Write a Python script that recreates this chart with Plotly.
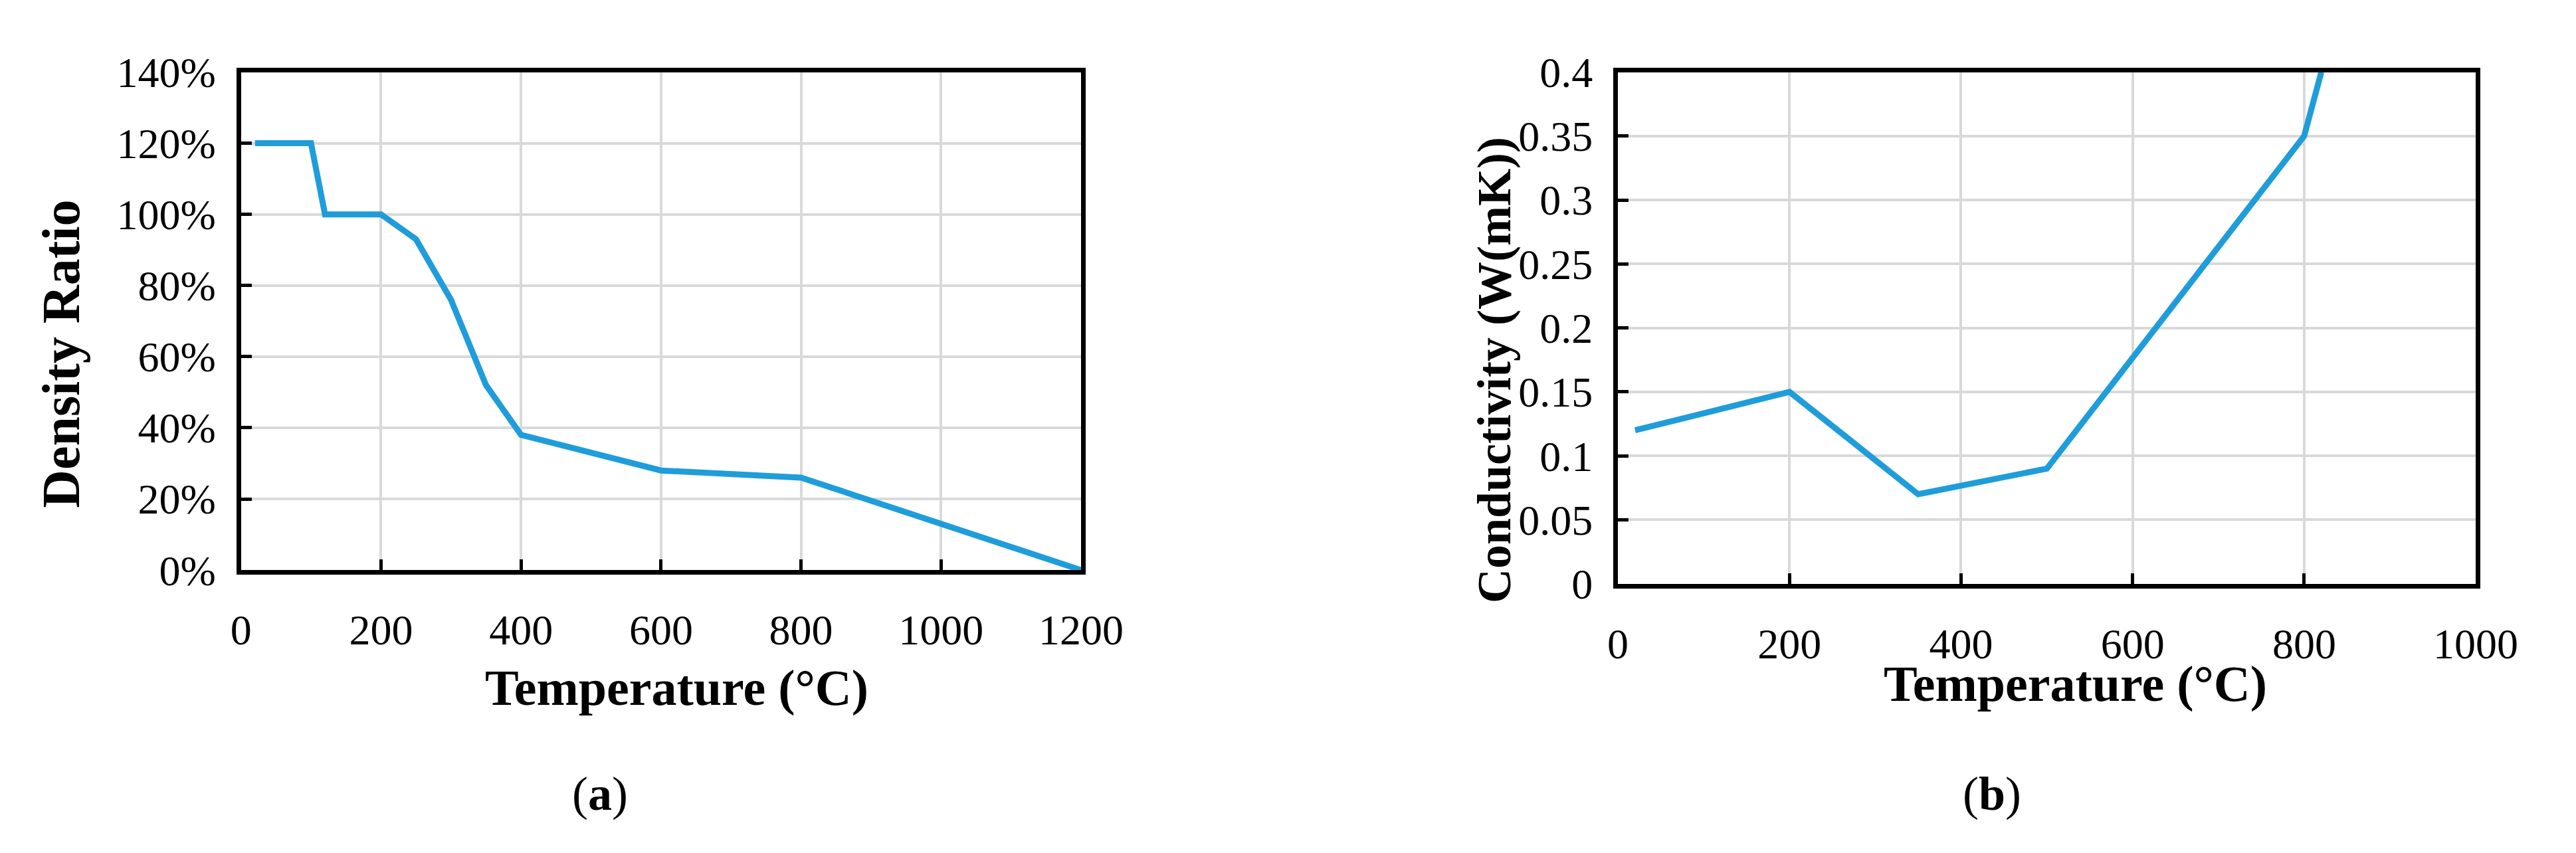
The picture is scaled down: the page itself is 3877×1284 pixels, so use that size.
import plotly.graph_objects as go

temp_a = [20, 100, 120, 200, 250, 300, 350, 400, 600, 800, 1200]
density = [120, 120, 100, 100, 93, 76, 52, 38, 28, 26, 0]
temp_b = [20, 200, 350, 500, 800, 820]
conductivity = [0.12, 0.15, 0.07, 0.09, 0.35, 0.40]
yb_ticks = [0, 0.05, 0.1, 0.15, 0.2, 0.25, 0.3, 0.35, 0.4]
yb_labels = ["0", "0.05", "0.1", "0.15", "0.2", "0.25", "0.3", "0.35", "0.4"]

W, H = 3877, 1284
BLUE = "#1f9ddb"
FONT = "Liberation Serif"

fig = go.Figure()
fig.add_trace(go.Scatter(x=temp_a, y=density, mode="lines", line=dict(color=BLUE, width=9),
                         xaxis="x", yaxis="y", showlegend=False))
fig.add_trace(go.Scatter(x=temp_b, y=conductivity, mode="lines", line=dict(color=BLUE, width=9),
                         xaxis="x2", yaxis="y2", showlegend=False, cliponaxis=True))

ax = dict(showgrid=True, gridcolor="#d9d9d9", gridwidth=4, showline=True, linecolor="black",
          linewidth=7, mirror=True, ticks="inside", ticklen=16, tickwidth=5, tickcolor="black",
          zeroline=False, tickfont=dict(family=FONT, size=64, color="black"))

fig.update_layout(
    width=W, height=H, margin=dict(l=0, r=0, t=0, b=0),
    paper_bgcolor="white", plot_bgcolor="white",
    xaxis=dict(ax, domain=[0.0892, 0.4222], range=[0, 1200], dtick=200, anchor="y", ticklabelstandoff=28),
    yaxis=dict(ax, domain=[0.328, 0.946], range=[0, 140], dtick=20, ticksuffix="%", anchor="x", ticklabelstandoff=18),
    xaxis2=dict(ax, domain=[0.635, 0.975], range=[0, 1000], dtick=200, anchor="y2", ticklabelstandoff=28),
    yaxis2=dict(ax, domain=[0.311, 0.946], range=[0, 0.4], tickvals=yb_ticks, ticktext=yb_labels,
                anchor="x2", ticklabelstandoff=18),
)

def ann(text, x, y, size, angle=0, bold=True):
    fig.add_annotation(text=f"<b>{text}</b>" if bold else text, x=x / W, y=1 - y / H,
                       xref="paper", yref="paper", showarrow=False, textangle=angle,
                       font=dict(family=FONT, size=size, color="black"),
                       xanchor="center", yanchor="middle")

ann("Temperature (°C)", 1015, 1051, 76)
ann("Density Ratio", 70, 519, 80, angle=-90)
ann("Temperature (°C)", 3165, 1044, 76)
ann("Conductivity (W(mK))", 2272, 544, 72, angle=-90)
ann("(<b>a</b>)", 898, 1219, 72, bold=False)
ann("(<b>b</b>)", 3037, 1219, 72, bold=False)

fig.write_html("out.html")
